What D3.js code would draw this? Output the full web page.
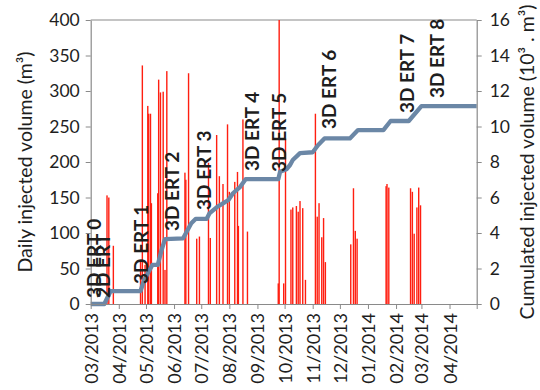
<!DOCTYPE html>
<html>
<head>
<meta charset="utf-8">
<script src="https://cdn.jsdelivr.net/npm/d3@7"></script>
<style>
  html, body { margin: 0; padding: 0; background: #fff; }
  svg { display: block; font-family: Lato, "Open Sans", sans-serif; }
</style>
</head>
<body>
<svg id="chart" width="540" height="390"></svg>
<script>
// Daily injected volume (m³)
const dailyDates = [
  "2013-03-19", "2013-03-21", "2013-03-26",
  "2013-04-25", "2013-04-27", "2013-04-30", "2013-05-03", "2013-05-04", "2013-05-06",
  "2013-05-07", "2013-05-14", "2013-05-15", "2013-05-17", "2013-05-20", "2013-05-22", "2013-05-24",
  "2013-06-13", "2013-06-14", "2013-06-17", "2013-06-26", "2013-06-29",
  "2013-07-09", "2013-07-11", "2013-07-18", "2013-07-21", "2013-07-25", "2013-07-30",
  "2013-08-01", "2013-08-07", "2013-08-10", "2013-08-11", "2013-08-16", "2013-08-21",
  "2013-09-24", "2013-09-25", "2013-09-30", "2013-10-02", "2013-10-08", "2013-10-10",
  "2013-10-14", "2013-10-16", "2013-10-18", "2013-10-21", "2013-10-24",
  "2013-11-04", "2013-11-06", "2013-11-08", "2013-11-11", "2013-11-13", "2013-11-15",
  "2013-12-13", "2013-12-16", "2013-12-18", "2013-12-20",
  "2014-01-21", "2014-01-22", "2014-01-24",
  "2014-02-17", "2014-02-19", "2014-02-21", "2014-02-24", "2014-02-26", "2014-02-28"
];
const dailyValues = [
  153, 150, 82,
  60, 336, 55, 279, 268, 268,
  142, 156, 316, 298, 299, 48, 328,
  185, 175, 325, 92, 95,
  199, 93, 238, 180, 169, 253,
  158, 172, 186, 110, 260, 102,
  29, 400, 29, 233, 133, 136,
  138, 130, 145, 135, 34,
  268, 123, 142, 94, 121, 59,
  84, 163, 103, 92,
  166, 169, 164,
  163, 158, 99, 136, 164, 139
];

// Cumulated injected volume (10³ m³)
const cumulDates = [
  "2013-03-01", "2013-03-16", "2013-03-23", "2013-04-25", "2013-04-29", "2013-05-08",
  "2013-05-14", "2013-05-18", "2013-05-22", "2013-06-11", "2013-06-20", "2013-06-25",
  "2013-07-07", "2013-07-10", "2013-07-18", "2013-07-25", "2013-07-31", "2013-08-05",
  "2013-08-13", "2013-08-19", "2013-09-24", "2013-09-26", "2013-10-03", "2013-10-07",
  "2013-10-10", "2013-10-18", "2013-11-01", "2013-11-07", "2013-11-14", "2013-12-12",
  "2013-12-21", "2014-01-18", "2014-01-26", "2014-02-15", "2014-03-01", "2014-05-01"
];
const cumulValues = [
  0, 0, 0.73, 0.73, 1.35, 2.2,
  2.2, 3.0, 3.65, 3.7, 4.55, 4.8,
  4.8, 5.1, 5.45, 5.67, 5.86, 6.24,
  6.6, 7.03, 7.03, 7.45, 7.59, 7.83,
  8.11, 8.5, 8.55, 8.96, 9.33, 9.33,
  9.8, 9.8, 10.31, 10.31, 11.15, 11.15
];

// Resistivity surveys: name, date, and the cumulated volume where the label starts
const surveyNames  = ["3D ERT 0", "2D ERT", "3D ERT 1", "3D ERT 2", "3D ERT 3", "3D ERT 4",
                      "3D ERT 5", "3D ERT 6", "3D ERT 7", "3D ERT 8"];
const surveyDates  = ["2013-03-12", "2013-03-22", "2013-05-03", "2013-06-07", "2013-07-12",
                      "2013-09-03", "2013-10-02", "2013-11-27", "2014-02-21", "2014-03-26"];
const surveyLevels = [0.34, 0.34, 1.13, 4.11, 5.3, 7.49, 7.44, 9.86, 10.76, 11.6];

const monthLabels = ["03/2013", "04/2013", "05/2013", "06/2013", "07/2013", "08/2013", "09/2013",
                     "10/2013", "11/2013", "12/2013", "01/2014", "02/2014", "03/2014", "04/2014"];
const timeSpan = ["2013-03-01", "2014-05-01"];
const dailyTicks = [0, 50, 100, 150, 200, 250, 300, 350, 400];
const cumulTicks = [0, 2, 4, 6, 8, 10, 12, 14, 16];

const parseDay = d3.timeParse("%Y-%m-%d");
const monthFmt = d3.timeFormat("%m/%Y");

const svg = d3.select("#chart");
const m = { left: 90.7, right: 476.7, top: 20, bottom: 304 };

const x = d3.scaleTime().domain(timeSpan.map(parseDay)).range([m.left, m.right]);
const yL = d3.scaleLinear().domain([0, 400]).range([m.bottom, m.top]);
const yR = d3.scaleLinear().domain([0, 16]).range([m.bottom, m.top]);

const axisGrey = "#8a8a8a";
const textCol = "#1e1e1e";

// frame: top border
svg.append("line").attr("x1", m.left).attr("x2", m.right).attr("y1", m.top).attr("y2", m.top)
  .attr("stroke", axisGrey).attr("stroke-width", 1.2);

// daily bars
const daily = dailyDates.map((d, i) => ({ date: parseDay(d), v: dailyValues[i] }));
svg.append("g").selectAll("rect").data(daily).join("rect")
  .attr("x", d => x(d.date) - 0.7)
  .attr("width", 1.4)
  .attr("y", d => yL(d.v))
  .attr("height", d => yL(0) - yL(d.v))
  .attr("fill", "#ff1e10");

// cumulated curve
const cumul = cumulDates.map((d, i) => ({ date: parseDay(d), v: cumulValues[i] }));
svg.append("path").datum(cumul)
  .attr("fill", "none")
  .attr("stroke", "#6b87a6")
  .attr("stroke-width", 4.3)
  .attr("stroke-linejoin", "round")
  .attr("d", d3.line().x(d => x(d.date)).y(d => yR(d.v)));

// axes
function styleAxis(g, size) {
  g.selectAll(".domain").attr("stroke", axisGrey).attr("stroke-width", 1.2);
  g.selectAll(".tick line").attr("stroke", axisGrey).attr("stroke-width", 1);
  g.selectAll(".tick text").attr("fill", textCol).style("font-size", size)
    .style("font-family", "Lato, 'Open Sans', sans-serif");
}

const gx = svg.append("g").attr("transform", `translate(0,${m.bottom})`)
  .call(d3.axisBottom(x).ticks(d3.timeMonth.every(1))
    .tickSizeInner(5).tickSizeOuter(0)
    .tickFormat(d => monthLabels.includes(monthFmt(d)) ? monthFmt(d) : ""));
styleAxis(gx, "18px");
gx.selectAll(".tick text")
  .attr("transform", "rotate(-90)")
  .attr("text-anchor", "end")
  .attr("x", -9).attr("y", 0).attr("dy", "0.36em");

const gl = svg.append("g").attr("transform", `translate(${m.left},0)`)
  .call(d3.axisLeft(yL).tickValues(dailyTicks).tickSizeInner(5).tickSizeOuter(0).tickPadding(6));
styleAxis(gl, "17.5px");

const gr = svg.append("g").attr("transform", `translate(${m.right},0)`)
  .call(d3.axisRight(yR).tickValues(cumulTicks).tickSizeInner(5).tickSizeOuter(0).tickPadding(8));
styleAxis(gr, "17.5px");

// axis titles
svg.append("text")
  .attr("transform", `translate(32,${(m.top + m.bottom) / 2}) rotate(-90)`)
  .attr("text-anchor", "middle").attr("fill", textCol).style("font-size", "19.5px")
  .text("Daily injected volume (m³)");
svg.append("text")
  .attr("transform", `translate(534,${(m.top + m.bottom) / 2}) rotate(-90)`)
  .attr("text-anchor", "middle").attr("fill", textCol).style("font-size", "19.5px")
  .text("Cumulated injected volume (10³ . m³)");

// survey labels
svg.append("g").selectAll("text")
  .data(surveyNames.map((n, i) => ({ name: n, date: parseDay(surveyDates[i]), v: surveyLevels[i] })))
  .join("text")
  .attr("transform", d => `translate(${x(d.date)},${yR(d.v)}) rotate(-90)`)
  .attr("fill", textCol)
  .style("font-size", "19px").style("font-weight", "bold")
  .text(d => d.name);
</script>
</body>
</html>
